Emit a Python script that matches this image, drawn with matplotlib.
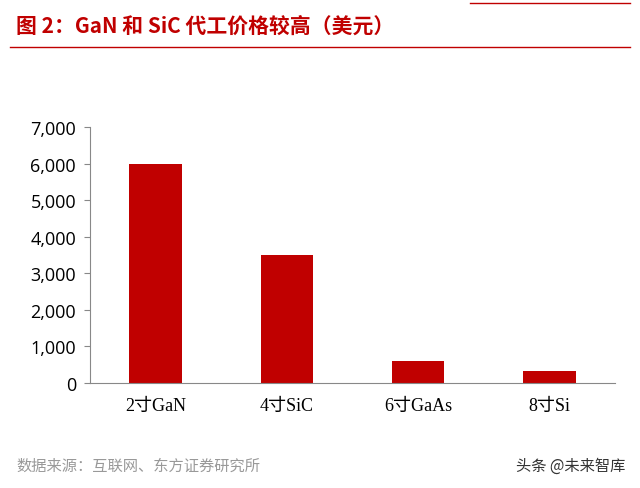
import matplotlib
matplotlib.use("Agg")
import matplotlib.pyplot as plt

plt.rcParams['font.family'] = ['Noto Sans CJK SC', 'DejaVu Sans']

categories = ["2寸GaN", "4寸SiC", "6寸GaAs", "8寸Si"]
values = [6000, 3500, 600, 330]
yticks = [0, 1000, 2000, 3000, 4000, 5000, 6000, 7000]

W, H = 640, 489
fig = plt.figure(figsize=(W/100, H/100), dpi=100)
ax = fig.add_axes([90/W, 1-384/H, (615-90)/W, (384-128)/H])
ax.bar(range(len(categories)), values, width=0.4, color="#C00000")
ax.set_xlim(-0.5, 3.5)
ax.set_ylim(0, 7000)
ax.set_yticks(yticks)
ax.set_yticklabels([f"{v:,}" for v in yticks], fontsize=13, family=['Open Sans', 'DejaVu Sans'])
ax.set_xticks(range(len(categories)))
ax.set_xticklabels(categories, fontsize=13, family=['Liberation Serif', 'Noto Sans CJK SC'])
for s in ["top", "right"]:
    ax.spines[s].set_visible(False)
ax.spines["left"].set_color("#888888")
ax.spines["bottom"].set_color("#888888")
ax.tick_params(axis="x", length=0, pad=10)
ax.tick_params(axis="y", length=4, color="#888888", pad=6)

fig.text(16/W, 1-26/H, "图 2：GaN 和 SiC 代工价格较高（美元）", color="#C00000",
         fontsize=15, fontweight="bold", va="center")
fig.add_artist(plt.Line2D([10/W, 630/W], [1-48/H, 1-48/H], color="#C00000", lw=1))
fig.add_artist(plt.Line2D([470/W, 630/W], [1-4/H, 1-4/H], color="#C00000", lw=1))
fig.text(16/W, 1-466/H, "数据来源：互联网、东方证券研究所", color="#999999", fontsize=11, va="center")
fig.text(625/W, 1-466/H, "头条 @未来智库", color="#333333", fontsize=11, va="center", ha="right")
fig.savefig("out.png", dpi=100)
